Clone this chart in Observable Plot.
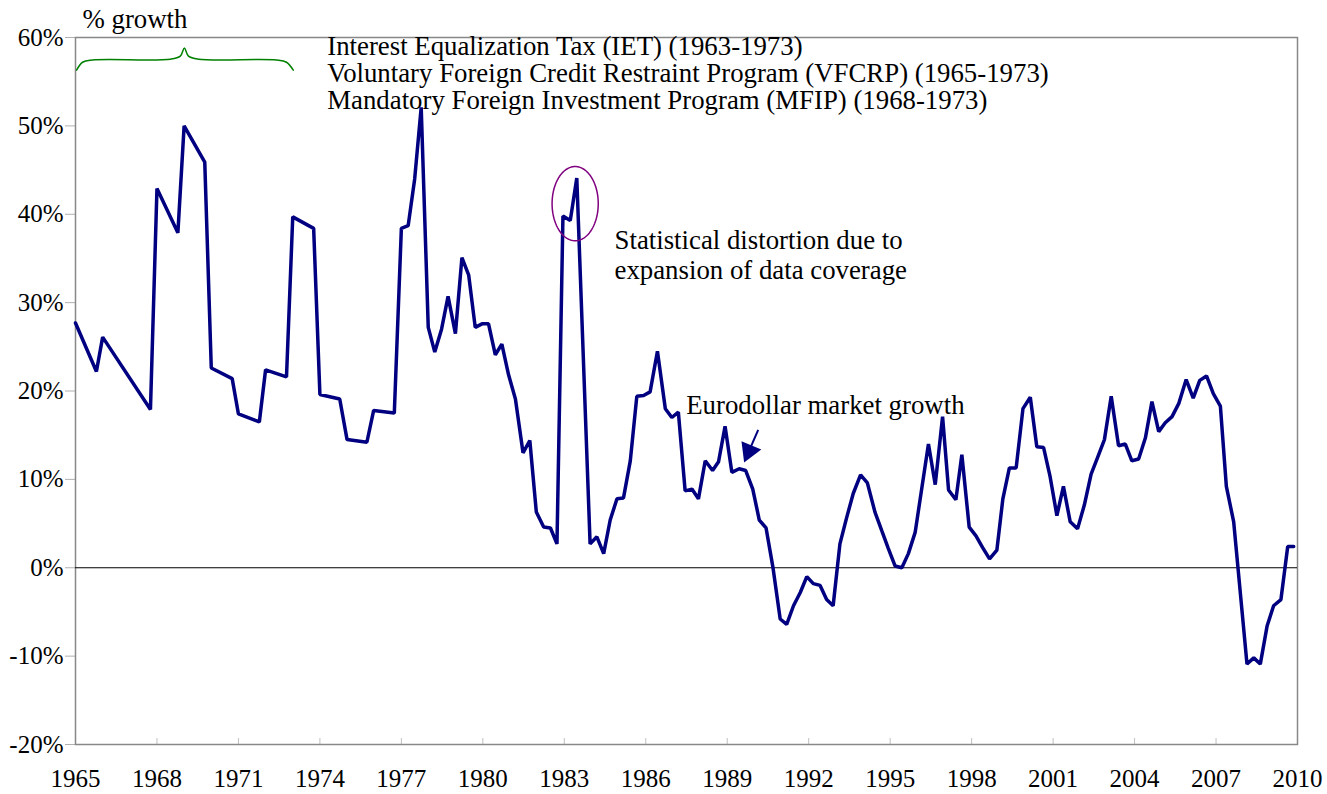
<!DOCTYPE html>
<html>
<head>
<meta charset="utf-8">
<script src="https://cdn.jsdelivr.net/npm/d3@7"></script>
<script src="https://cdn.jsdelivr.net/npm/@observablehq/plot@0.6"></script>
<style>
  html, body { margin: 0; padding: 0; background: #fff; }
  #chart svg { display: block; }
  #chart svg, #chart svg text { font-family: "Liberation Serif", "Times New Roman", serif !important; }
</style>
</head>
<body>
<div id="chart"></div>
<script>
// Eurodollar market growth, % (time in decimal years)
const years = [
  1965.00, 1965.77, 1966.00, 1967.76, 1968.00, 1968.77, 1969.00, 1969.76, 1970.00, 1970.77,
  1971.00, 1971.77, 1972.00, 1972.77, 1973.00, 1973.77, 1974.00, 1974.73, 1975.00, 1975.73,
  1975.98, 1976.74, 1977.00, 1977.25, 1977.49, 1977.73, 1977.99, 1978.23, 1978.48, 1978.72,
  1978.99, 1979.23, 1979.48, 1979.72, 1979.97, 1980.21, 1980.46, 1980.70, 1980.95, 1981.20,
  1981.48, 1981.73, 1981.97, 1982.24, 1982.49, 1982.73, 1982.95, 1983.22, 1983.46, 1983.95,
  1984.20, 1984.45, 1984.69, 1984.94, 1985.18, 1985.43, 1985.67, 1985.92, 1986.16, 1986.43,
  1986.72, 1986.96, 1987.20, 1987.45, 1987.70, 1987.94, 1988.19, 1988.46, 1988.68, 1988.92,
  1989.17, 1989.44, 1989.68, 1989.94, 1990.18, 1990.43, 1990.68, 1990.95, 1991.19, 1991.44,
  1991.69, 1991.93, 1992.17, 1992.42, 1992.66, 1992.90, 1993.15, 1993.40, 1993.64, 1993.91,
  1994.16, 1994.44, 1994.69, 1994.93, 1995.18, 1995.43, 1995.67, 1995.92, 1996.17, 1996.41,
  1996.66, 1996.93, 1997.15, 1997.42, 1997.64, 1997.91, 1998.16, 1998.40, 1998.66, 1998.93,
  1999.15, 1999.39, 1999.64, 1999.89, 2000.16, 2000.40, 2000.65, 2000.89, 2001.14, 2001.38,
  2001.63, 2001.90, 2002.15, 2002.40, 2002.64, 2002.89, 2003.14, 2003.41, 2003.66, 2003.90,
  2004.15, 2004.40, 2004.64, 2004.89, 2005.13, 2005.38, 2005.63, 2005.90, 2006.16, 2006.40,
  2006.65, 2006.90, 2007.16, 2007.38, 2007.65, 2008.14, 2008.39, 2008.63, 2008.88, 2009.12,
  2009.39, 2009.64, 2009.86
];
const growth = [
  27.7, 22.2, 26.1, 17.9, 42.9, 37.9, 50.0, 45.9, 22.6, 21.4,
  17.4, 16.5, 22.4, 21.6, 39.7, 38.4, 19.6, 19.1, 14.5, 14.2,
  17.8, 17.5, 38.4, 38.7, 44.0, 52.1, 27.2, 24.4, 27.0, 30.7,
  26.5, 35.1, 33.1, 27.2, 27.6, 27.6, 24.1, 25.3, 21.8, 19.1,
  13.0, 14.4, 6.3, 4.6, 4.5, 2.7, 39.8, 39.3, 44.1, 2.7,
  3.5, 1.6, 5.4, 7.8, 7.9, 12.1, 19.4, 19.5, 19.9, 24.5,
  18.0, 17.0, 17.6, 8.7, 8.9, 7.8, 12.1, 11.0, 12.0, 16.0,
  10.8, 11.2, 11.0, 8.9, 5.4, 4.5, 0.1, -5.8, -6.4, -4.3,
  -2.8, -1.0, -1.8, -2.0, -3.6, -4.3, 2.7, 5.7, 8.4, 10.5,
  9.6, 6.3, 4.2, 2.2, 0.2, 0.0, 1.6, 4.0, 9.1, 14.0,
  9.4, 17.1, 8.8, 7.7, 12.8, 4.6, 3.6, 2.3, 1.0, 2.0,
  7.8, 11.3, 11.3, 18.0, 19.3, 13.7, 13.6, 10.3, 5.9, 9.2,
  5.2, 4.4, 7.1, 10.6, 12.5, 14.5, 19.4, 13.8, 14.0, 12.1,
  12.3, 14.7, 18.8, 15.4, 16.4, 17.1, 18.6, 21.3, 19.2, 21.2,
  21.7, 19.7, 18.3, 9.2, 5.2, -10.9, -10.2, -10.9, -6.6, -4.3,
  -3.6, 2.4, 2.4
];

const xTicks = [1965, 1968, 1971, 1974, 1977, 1980, 1983, 1986, 1989, 1992, 1995, 1998, 2001, 2004, 2007, 2010];
const yTicks = [-20, -10, 0, 10, 20, 30, 40, 50, 60];

// Annotation texts
const controlsText = [
  "Interest Equalization Tax (IET) (1963-1973)",
  "Voluntary Foreign Credit Restraint Program (VFCRP) (1965-1973)",
  "Mandatory Foreign Investment Program (MFIP) (1968-1973)"
];
const distortionText = ["Statistical distortion due to", "expansion of data coverage"];
const seriesLabel = "Eurodollar market growth";
const yUnitLabel = "% growth";

// Brace over 1965-1973 (in data units)
const braceX = [1965.04, 1965.26, 1965.63, 1968.5, 1968.86, 1969.01, 1969.16, 1969.53, 1972.4, 1972.77, 1973.02];
const braceY = [56.3, 57.2, 57.45, 57.55, 57.9, 58.8, 57.9, 57.55, 57.45, 57.2, 56.3];

// Ellipse around the 1983 spike (data units)
const ellipseCenter = [1983.4, 41.2];
const ellipseRadii = [0.85, 4.2];

// Arrow pointing to the series
const arrowStart = [1990.14, 15.6];
const arrowTip = [1989.8, 13.2];

const data = years.map((t, i) => ({t, v: growth[i]}));
const brace = braceX.map((x, i) => ({x, y: braceY[i]}));
const ellipse = d3.range(0, 361, 4).map(a => ({
  x: ellipseCenter[0] + ellipseRadii[0] * Math.cos(a * Math.PI / 180),
  y: ellipseCenter[1] + ellipseRadii[1] * Math.sin(a * Math.PI / 180)
}));

const font = "Liberation Serif, Times New Roman, serif";
const navy = "#000080";
const noteSize = 26.8;

const chart = Plot.plot({
  width: 1327,
  height: 794,
  marginLeft: 75,
  marginRight: 30,
  marginTop: 37,
  marginBottom: 50,
  style: {fontFamily: font, fontSize: "25px", color: "#000", background: "#fff"},
  x: {domain: [1965, 2010]},
  y: {domain: [-20, 60]},
  marks: [
    Plot.axisY({ticks: yTicks, tickFormat: d => d + "%", tickSize: 10, tickPadding: 2, stroke: "#b0b0b0", fill: "#000", fontSize: 25, label: null}),
    Plot.axisX({ticks: xTicks, tickFormat: d => String(d), tickSize: 0, tickPadding: 25, fill: "#000", fontSize: 25, label: null}),
    Plot.ruleX(xTicks, {x: d => d, y1: -20, y2: -20, insetTop: -6, stroke: "#c0c0c0"}),
    Plot.frame({stroke: "#888", strokeWidth: 1.5}),
    Plot.ruleY([0], {stroke: "#000", strokeWidth: 1}),
    Plot.line(data, {x: "t", y: "v", stroke: navy, strokeWidth: 3.5, strokeLinejoin: "miter"}),
    Plot.line(brace, {x: "x", y: "y", stroke: "#008000", strokeWidth: 1.5, curve: "catmull-rom"}),
    Plot.line(ellipse, {x: "x", y: "y", stroke: "#800080", strokeWidth: 1.5, curve: "linear"}),
    Plot.link([0], {x1: () => arrowStart[0], y1: () => arrowStart[1], x2: () => arrowTip[0], y2: () => arrowTip[1], stroke: navy, strokeWidth: 2}),
    Plot.dot([0], {x: () => arrowTip[0], y: () => arrowTip[1], symbol: "triangle", r: 8, fill: navy, stroke: "none", rotate: 203}),
    Plot.text([yUnitLabel], {frameAnchor: "top-left", text: d => d, dx: 7, dy: -10, lineAnchor: "bottom", textAnchor: "start", fontSize: noteSize, fill: "#000"}),
    Plot.text([controlsText.join("\n")], {x: () => 1974.27, y: () => 51.95, text: d => d, lineAnchor: "bottom", textAnchor: "start", lineHeight: 1.0, fontSize: noteSize, fill: "#000"}),
    Plot.text([distortionText.join("\n")], {x: () => 1984.85, y: () => 32.7, text: d => d, lineAnchor: "bottom", textAnchor: "start", lineHeight: 1.12, fontSize: noteSize, fill: "#000"}),
    Plot.text([seriesLabel], {x: () => 1987.49, y: () => 17.4, text: d => d, lineAnchor: "bottom", textAnchor: "start", fontSize: noteSize, fill: "#000"})
  ]
});
document.getElementById("chart").appendChild(chart);
</script>
</body>
</html>
